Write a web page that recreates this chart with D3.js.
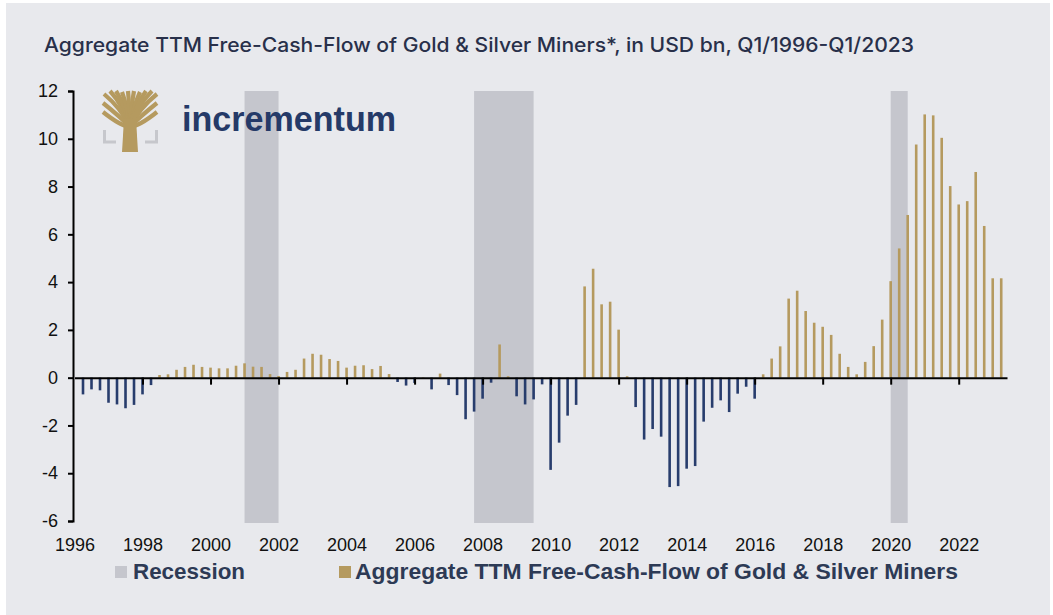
<!DOCTYPE html>
<html>
<head>
<meta charset="utf-8">
<script src="https://cdn.jsdelivr.net/npm/d3@7"></script>
<style>
  body { margin: 0; background: #ffffff; }
  #chart { width: 1053px; height: 615px; }
  .axis text { font-family: "Liberation Sans", Arial, sans-serif; font-size: 18px; fill: #111; }
  .axis path, .axis line { stroke: #000; stroke-width: 2; }
</style>
</head>
<body>
<div id="chart"></div>
<script>
/* data, quarterly Q1/1996 - Q1/2023, USD bn */
var firstYear = 1996;
var fcf = [
  -0.70, -0.49, -0.53, -1.05, -1.12, -1.28, -1.14, -0.70, -0.31, 0.11,
   0.14,  0.33,  0.45,  0.54,  0.45,  0.42,  0.39,  0.39,  0.50, 0.60,
   0.46,  0.45,  0.15,  0.07,  0.24,  0.33,  0.80,  1.00,  0.96, 0.78,
   0.70,  0.42,  0.50,  0.52,  0.36,  0.49,  0.15, -0.18, -0.33, -0.22,
   0.02, -0.49,  0.17, -0.31, -0.73, -1.74, -1.42, -0.88, -0.21, 1.39,
   0.06, -0.78, -1.12, -0.91, -0.28, -3.86, -2.72, -1.59, -1.14, 3.82,
   4.56,  3.07,  3.18,  2.01,  0.06, -1.23, -2.59, -2.15, -2.47, -4.58,
  -4.54, -3.81, -3.70, -1.84, -1.26, -0.95, -1.44, -0.67, -0.38, -0.88,
   0.14,  0.80,  1.31,  3.31,  3.64,  2.79,  2.30,  2.13,  1.79, 1.00,
   0.45,  0.14,  0.66,  1.32,  2.43,  4.04,  5.41,  6.81,  9.76, 11.02,
  10.98, 10.04,  8.02,  7.25,  7.39,  8.61,  6.35,  4.16,  4.16
];
var recStart = [2001.0, 2007.75, 2020.0];
var recEnd   = [2002.0, 2009.5, 2020.5];
var yTicks = [-6, -4, -2, 0, 2, 4, 6, 8, 10, 12];
var xTicks = [1996, 1998, 2000, 2002, 2004, 2006, 2008, 2010, 2012, 2014, 2016, 2018, 2020, 2022];
var titleText = "Aggregate TTM Free-Cash-Flow of Gold & Silver Miners*, in USD bn, Q1/1996-Q1/2023";
var legendRec = "Recession";
var legendFcf = "Aggregate TTM Free-Cash-Flow of Gold & Silver Miners";

var w = 1053, h = 615;
var tan = "#b59a5f", navy = "#283d6d";

var svg = d3.select("#chart").append("svg").attr("width", w).attr("height", h);

/* panel */
svg.append("rect").attr("x", 6).attr("y", 3).attr("width", 1044).attr("height", 612).attr("fill", "#e8e9ed");

var xScale = d3.scaleLinear().domain([1996, 2023.42]).range([74.5, 1007]);
var yScale = d3.scaleLinear().domain([-6, 12]).range([521, 91]);

/* title */
svg.append("text")
  .attr("x", 44).attr("y", 52)
  .attr("textLength", 870).attr("lengthAdjust", "spacingAndGlyphs")
  .style("font-family", "Inter, Roboto, sans-serif")
  .style("font-size", "20px")
  .style("font-weight", "500")
  .style("fill", "#28304a")
  .text(titleText);

/* recession bands */
svg.append("g").selectAll("rect").data(recStart).enter()
  .append("rect")
  .attr("x", function (d) { return xScale(d); })
  .attr("width", function (d, i) { return xScale(recEnd[i]) - xScale(d); })
  .attr("y", yScale(12))
  .attr("height", yScale(-6) - yScale(12) + 2)
  .attr("fill", "#c5c6cd");

/* logo */
var logo = svg.append("g").attr("transform", "translate(103,91)");
var tips = [[1, 3], [7, 0], [13, 0], [19, 1], [25, 0], [31, 0], [37, 1], [43, 0], [49, 0], [54, 3], [0, 12], [54, 12], [0, 21], [54, 21]];
logo.selectAll("path.br").data(tips).enter().append("path")
  .attr("class", "br")
  .attr("d", function (d) {
    var p = d3.path();
    p.moveTo(27, 36);
    p.quadraticCurveTo(27 + (d[0] - 27) * 0.35, d[1] + 14, d[0], d[1]);
    return p.toString();
  })
  .attr("fill", "none").attr("stroke", tan).attr("stroke-width", 4.2);
logo.append("path").attr("d", "M21,28 L33,28 L35,61 L19,61 Z").attr("fill", tan);
logo.append("path").attr("d", "M1.5,39 V51 H13").attr("fill", "none").attr("stroke", "#c6c7cc").attr("stroke-width", 3);
logo.append("path").attr("d", "M53.5,39 V51 H42").attr("fill", "none").attr("stroke", "#c6c7cc").attr("stroke-width", 3);
svg.append("text")
  .attr("x", 182).attr("y", 131)
  .attr("textLength", 214).attr("lengthAdjust", "spacingAndGlyphs")
  .style("font-family", "'Liberation Sans', Arial, sans-serif")
  .style("font-weight", "bold").style("font-size", "35px")
  .style("fill", "#253a68")
  .text("incrementum");

/* bars */
svg.append("g").selectAll("rect").data(fcf).enter()
  .append("rect")
  .attr("x", function (d, i) { return xScale(firstYear + (i + 1) / 4) - 1.3; })
  .attr("width", 2.6)
  .attr("y", function (d) { return yScale(Math.max(0, d)); })
  .attr("height", function (d) { return Math.abs(yScale(d) - yScale(0)); })
  .attr("fill", function (d) { return d >= 0 ? tan : navy; });

/* axes */
var yAxis = d3.axisLeft(yScale).tickValues(yTicks).tickSize(5).tickSizeOuter(5).tickPadding(10)
  .tickFormat(function (d) { return String(d); });
svg.append("g").attr("class", "axis").attr("transform", "translate(73,0)").call(yAxis);

var xAxis = d3.axisBottom(xScale).tickValues(xTicks.slice(1)).tickSize(7).tickSizeOuter(0).tickFormat("");
svg.append("g").attr("class", "axis").attr("transform", "translate(0," + yScale(0) + ")").call(xAxis);

var xLabels = d3.axisBottom(xScale).tickValues(xTicks).tickSize(0).tickFormat(d3.format("d"));
var xl = svg.append("g").attr("class", "axis").attr("transform", "translate(0,535)").call(xLabels);
xl.select(".domain").remove();

/* legend */
var leg = svg.append("g").style("font-family", "'Liberation Sans', Arial, sans-serif")
  .style("font-weight", "bold").style("font-size", "22px").style("fill", "#2d3a55");
leg.append("rect").attr("x", 115).attr("y", 566).attr("width", 12).attr("height", 12).attr("fill", "#c5c6cd");
leg.append("text").attr("x", 133).attr("y", 579).attr("textLength", 112).attr("lengthAdjust", "spacingAndGlyphs").text(legendRec);
leg.append("rect").attr("x", 339).attr("y", 566).attr("width", 12).attr("height", 12).attr("fill", tan);
leg.append("text").attr("x", 355).attr("y", 579).attr("textLength", 603).attr("lengthAdjust", "spacingAndGlyphs").text(legendFcf);
</script>
</body>
</html>
